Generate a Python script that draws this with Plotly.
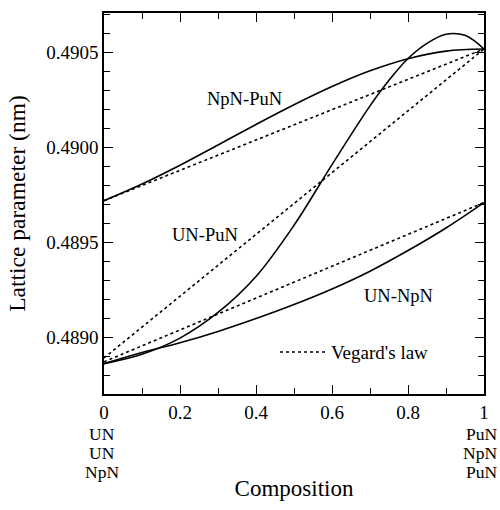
import plotly.graph_objects as go

# ---- data ----
x_grid = [0, 0.1, 0.2, 0.3, 0.4, 0.5, 0.6, 0.7, 0.8, 0.9, 1.0]
npn_pun = [0.48972, 0.489808, 0.489907, 0.490014, 0.490122, 0.490226, 0.490322, 0.490405, 0.490469, 0.490509, 0.49052]
un_npn = [0.48886, 0.488919, 0.48897, 0.48903, 0.489098, 0.489172, 0.489254, 0.489348, 0.489457, 0.489576, 0.48971]
x_unpun = [0, 0.1, 0.2, 0.3, 0.4, 0.5, 0.6, 0.7, 0.75, 0.8, 0.85, 0.9, 0.95, 1.0]
un_pun = [0.48886, 0.48891, 0.488995, 0.48913, 0.48932, 0.48959, 0.48991, 0.49022, 0.490355,
          0.49047, 0.49055, 0.490598, 0.490592, 0.49052]

vegard_x = [0, 1]
vegard_npn_pun = [0.48972, 0.49052]
vegard_un_pun = [0.48889, 0.49052]
vegard_un_npn = [0.48887, 0.48971]

x_tickvals = [0, 0.2, 0.4, 0.6, 0.8, 1]
x_ticktext = ["0", "0.2", "0.4", "0.6", "0.8", "1"]
y_tickvals = [0.4890, 0.4895, 0.4900, 0.4905]
y_ticktext = ["0.4890", "0.4895", "0.4900", "0.4905"]

curve_labels = [("NpN-PuN", 0.371, 0.490258), ("UN-PuN", 0.266, 0.489537), ("UN-NpN", 0.774, 0.489216)]
left_comp = ["UN", "UN", "NpN"]
right_comp = ["PuN", "NpN", "PuN"]

FONT = "Liberation Serif, Times New Roman, serif"

fig = go.Figure()
solid = dict(color="black", width=1.6)
dotted = dict(color="black", width=1.6, dash="dot")

for ys in (vegard_npn_pun, vegard_un_pun, vegard_un_npn):
    fig.add_trace(go.Scatter(x=vegard_x, y=ys, mode="lines", line=dotted,
                             name="Vegard's law", showlegend=(ys is vegard_npn_pun)))

fig.add_trace(go.Scatter(x=x_grid, y=npn_pun, mode="lines", line=solid, line_shape="spline", showlegend=False))
fig.add_trace(go.Scatter(x=x_grid, y=un_npn, mode="lines", line=solid, line_shape="spline", showlegend=False))
fig.add_trace(go.Scatter(x=x_unpun, y=un_pun, mode="lines", line=solid, line_shape="spline", showlegend=False))

for txt, lx, ly in curve_labels:
    fig.add_annotation(x=lx, y=ly, text=txt, showarrow=False, xref="x", yref="y",
                       font=dict(family=FONT, size=18.5, color="black"))

line_pos = [-0.1037, -0.1549, -0.206]
for w, yp in zip(left_comp, line_pos):
    fig.add_annotation(x=0, y=yp, xref="x", yref="paper", text=w, showarrow=False,
                       xanchor="center", xshift=-2, yanchor="middle", borderpad=0,
                       font=dict(family=FONT, size=17.5, color="black"))
for w, yp in zip(right_comp, line_pos):
    fig.add_annotation(x=1, y=yp, xref="x", yref="paper", text=w, showarrow=False,
                       xanchor="right", xshift=14, yanchor="middle", borderpad=0,
                       font=dict(family=FONT, size=17.5, color="black"))

axis_common = dict(showline=True, linecolor="black", linewidth=1.5, mirror="ticks",
                   ticks="inside", ticklen=9, tickwidth=1.3, tickcolor="black",
                   showgrid=False, zeroline=False, automargin=False,
                   tickfont=dict(family=FONT, size=19, color="black"))

fig.update_xaxes(range=[0, 1], tickvals=x_tickvals, ticktext=x_ticktext,
                 minor=dict(dtick=0.1, ticks="inside", ticklen=6, tickwidth=1.2, tickcolor="black", showgrid=False),
                 title=dict(text="Composition", font=dict(family=FONT, size=23, color="black"), standoff=58),
                 **axis_common)
fig.update_yaxes(range=[0.4887, 0.49071], tickvals=y_tickvals, ticktext=y_ticktext,
                 minor=dict(dtick=0.0001, tick0=0.4887, ticks="inside", ticklen=6, tickwidth=1.2, tickcolor="black", showgrid=False),
                 title=dict(text="Lattice parameter (nm)", font=dict(family=FONT, size=23.5, color="black"), standoff=14),
                 **axis_common)

fig.update_layout(width=500, height=510, margin=dict(l=104, r=16, t=13, b=116),
                  plot_bgcolor="white", paper_bgcolor="white",
                  font=dict(family=FONT, color="black"),
                  legend=dict(x=0.45, y=0.11, xanchor="left", yanchor="middle", bgcolor="rgba(0,0,0,0)",
                              font=dict(family=FONT, size=19, color="black"), itemwidth=46))

fig.write_html("out.html")
